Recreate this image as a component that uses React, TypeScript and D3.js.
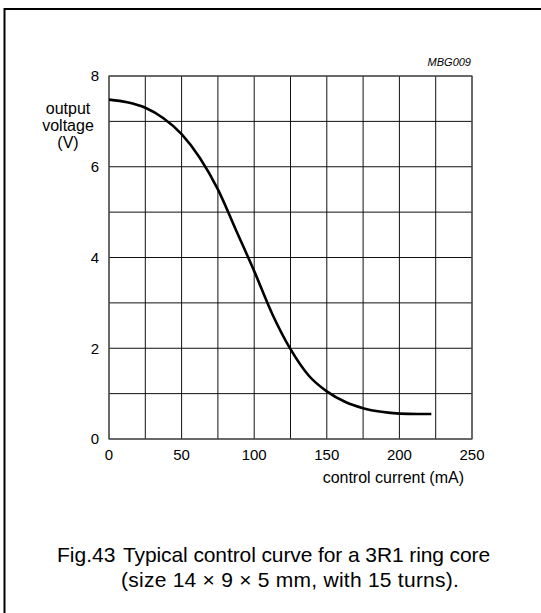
import React from "react";
import * as d3 from "d3";

const currentMA = [0, 12.5, 25, 37.5, 50, 62.5, 75, 87.5, 100, 112.5, 125, 137.5, 150, 162.5, 175, 187.5, 200, 212.5, 222];
const voltageV = [7.48, 7.42, 7.3, 7.07, 6.72, 6.2, 5.5, 4.6, 3.7, 2.75, 1.98, 1.4, 1.05, 0.82, 0.68, 0.6, 0.56, 0.55, 0.55];
const xTickLabels = [0, 50, 100, 150, 200, 250];
const yTickLabels = [0, 2, 4, 6, 8];
const xGrid = [0, 25, 50, 75, 100, 125, 150, 175, 200, 225, 250];
const yGrid = [0, 1, 2, 3, 4, 5, 6, 7, 8];
const yLabelLines = ["output", "voltage", "(V)"];
const xLabel = "control current (mA)";
const code = "MBG009";
const captionFig = "Fig.43";
const captionLine1 = "Typical control curve for a 3R1 ring core";
const captionLine2 = "(size 14 \u00d7 9 \u00d7 5 mm, with 15 turns).";

export default function App() {
  const W = 541, H = 613;
  const left = 109, right = 472, top = 76, bottom = 439;
  const x = d3.scaleLinear().domain([0, 250]).range([left, right]);
  const y = d3.scaleLinear().domain([0, 8]).range([bottom, top]);
  const data = currentMA.map((c, i) => [c, voltageV[i]] as [number, number]);
  const line = d3.line<[number, number]>().x(d => x(d[0])).y(d => y(d[1])).curve(d3.curveMonotoneX);
  const font = "'Liberation Sans', Arial, Helvetica, sans-serif";
  return (
    <svg width={W} height={H} style={{ position: "absolute", left: 0, top: 0 }} fontFamily={font}>
      <rect x={0} y={0} width={W} height={H} fill="#fff" />
      <rect x={4.5} y={9} width={W + 20} height={H + 20} fill="none" stroke="#000" strokeWidth={2} />
      {xGrid.map(v => (
        <line key={"gx" + v} x1={x(v)} x2={x(v)} y1={top} y2={bottom} stroke="#111" strokeWidth={1} />
      ))}
      {yGrid.map(v => (
        <line key={"gy" + v} x1={left} x2={right} y1={y(v)} y2={y(v)} stroke="#111" strokeWidth={1} />
      ))}
      <rect x={left} y={top} width={right - left} height={bottom - top} fill="none" stroke="#555" strokeWidth={1.2} />
      <path d={line(data) || ""} fill="none" stroke="#000" strokeWidth={2.6} />
      {yTickLabels.map(v => (
        <text key={"yt" + v} x={99} y={y(v)} dy="0.36em" textAnchor="end" fontSize={15}>{v}</text>
      ))}
      {xTickLabels.map(v => (
        <text key={"xt" + v} x={x(v)} y={460} textAnchor="middle" fontSize={15}>{v}</text>
      ))}
      {yLabelLines.map((t, i) => (
        <text key={"yl" + i} x={68} y={114 + i * 17} textAnchor="middle" fontSize={16}>{t}</text>
      ))}
      <text x={464} y={483} textAnchor="end" fontSize={16}>{xLabel}</text>
      <text x={471} y={66} textAnchor="end" fontSize={11} fontStyle="italic">{code}</text>
      <text x={57} y={562} fontSize={21}>{captionFig}</text>
      <text x={123} y={562} fontSize={21} letterSpacing={-0.1}>{captionLine1}</text>
      <text x={121} y={587} fontSize={21} letterSpacing={0.25}>{captionLine2}</text>
    </svg>
  );
}
